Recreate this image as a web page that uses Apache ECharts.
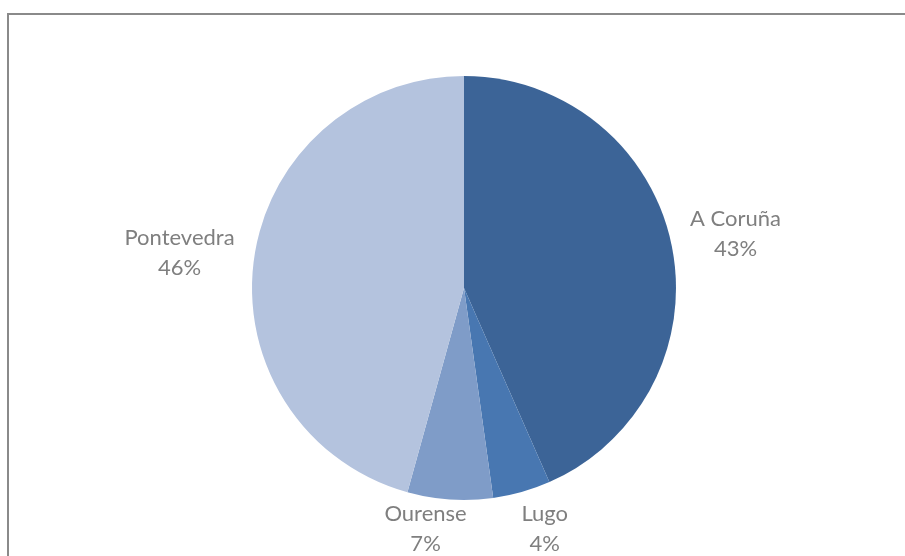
<!DOCTYPE html>
<html>
<head>
<meta charset="utf-8">
<script src="https://cdn.jsdelivr.net/npm/echarts@6/dist/echarts.min.js"></script>
<style>
  html, body { margin: 0; padding: 0; background: #fff; }
  #chart { width: 905px; height: 556px; }
</style>
</head>
<body>
<div id="chart"></div>
<script>
// province shares (percent of total)
const provinces = ['A Coruña', 'Lugo', 'Ourense', 'Pontevedra'];
const shares = [43.4, 4.4, 6.5, 45.7];
const sliceColors = ['#3c6497', '#4877b1', '#7f9cc8', '#b4c3de'];

const center = [464, 288];
const radius = 212;
const labelGap = 20;
const labelBottom = 559;

const total = shares.reduce((a, b) => a + b, 0);

// mid angle of each slice, measured clockwise from 12 o'clock
const midAngles = [];
let acc = 0;
shares.forEach(v => {
    midAngles.push((acc + v / 2) / total * Math.PI * 2);
    acc += v;
});

const chart = echarts.init(document.getElementById('chart'));

chart.setOption({
    animation: false,
    graphic: [
        {
            type: 'rect',
            shape: { x: 8, y: 14, width: 1200, height: 1000 },
            style: { fill: 'none', stroke: '#8a8a8a', lineWidth: 2 },
            silent: true
        }
    ],
    series: [
        {
            type: 'pie',
            center: center,
            radius: radius,
            startAngle: 90,
            clockwise: true,
            percentPrecision: 0,
            label: {
                show: true,
                position: 'outside',
                formatter: '{b}\n{d}%',
                color: '#7f7f7f',
                fontFamily: 'Lato',
                fontSize: 22,
                lineHeight: 30,
                align: 'center'
            },
            labelLine: { show: false },
            itemStyle: { borderWidth: 0 },
            emphasis: { disabled: true },
            labelLayout: params => {
                const a = midAngles[params.dataIndex];
                const dx = Math.sin(a);
                const dy = -Math.cos(a);
                const w = params.labelRect.width;
                const h = params.labelRect.height;
                let x = center[0] + dx * (radius + labelGap) + dx * w / 2;
                let y = center[1] + dy * (radius + labelGap) + dy * h / 2;
                if (y + h / 2 > labelBottom) {
                    // pushed up by the frame edge: slide sideways instead
                    const push = y + h / 2 - labelBottom;
                    y = labelBottom - h / 2;
                    x += Math.sign(dx) * push;
                }
                return { x: x, y: y, align: 'center', verticalAlign: 'middle' };
            },
            data: provinces.map((name, i) => ({
                name: name,
                value: shares[i],
                itemStyle: { color: sliceColors[i] }
            }))
        }
    ]
});
</script>
</body>
</html>
